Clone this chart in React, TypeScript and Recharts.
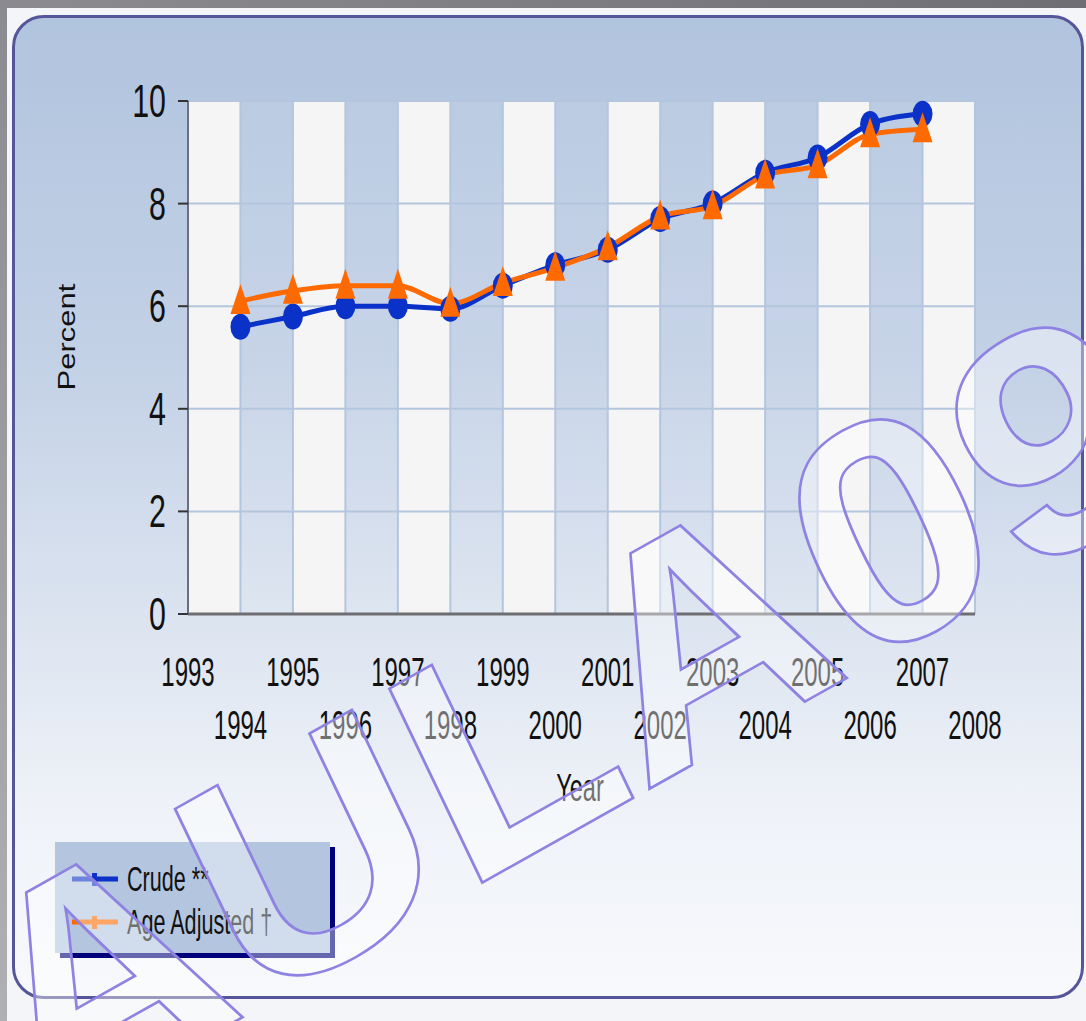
import { CartesianGrid, Line, LineChart, XAxis, YAxis } from "recharts";

const years = [1994, 1995, 1996, 1997, 1998, 1999, 2000, 2001, 2002, 2003, 2004, 2005, 2006, 2007];
const crude = [5.6, 5.8, 6.0, 6.0, 5.95, 6.4, 6.8, 7.1, 7.7, 8.0, 8.6, 8.9, 9.55, 9.75];
const ageAdjusted = [6.1, 6.3, 6.4, 6.4, 6.05, 6.45, 6.75, 7.15, 7.75, 7.95, 8.55, 8.75, 9.35, 9.45];
const xTicks = [1993, 1994, 1995, 1996, 1997, 1998, 1999, 2000, 2001, 2002, 2003, 2004, 2005, 2006, 2007, 2008];
const yTicks = [0, 2, 4, 6, 8, 10];
const seriesNames = ["Crude **", "Age Adjusted \u2020"];

const data = years.map((year, i) => ({ year, crude: crude[i], adjusted: ageAdjusted[i] }));

const FONT = "'Liberation Sans', Arial, sans-serif";
const BLUE = "#0a32c8";
const ORANGE = "#ff6a00";

function XTick({ x, y, payload }: any) {
  const row = payload.value % 2 === 1 ? 0 : 1;
  return (
    <text
      transform={`translate(${x},${y + 64 + row * 53}) scale(0.6,1)`}
      textAnchor="middle"
      fontSize={40}
      fontFamily={FONT}
      fill="#111"
    >
      {payload.value}
    </text>
  );
}

function YTick({ x, y, payload }: any) {
  return (
    <text
      transform={`translate(${x - 10},${y + 16}) scale(0.66,1)`}
      textAnchor="end"
      fontSize={46}
      fontFamily={FONT}
      fill="#111"
    >
      {payload.value}
    </text>
  );
}

function Ellipse({ cx, cy }: any) {
  if (cx == null || cy == null) return null;
  return <ellipse cx={cx} cy={cy} rx={10} ry={13} fill={BLUE} />;
}

function Triangle({ cx, cy }: any) {
  if (cx == null || cy == null) return null;
  return <path d={`M${cx},${cy - 17} L${cx + 10},${cy + 13} L${cx - 10},${cy + 13} Z`} fill={ORANGE} />;
}

function LegendBox() {
  const colors = [BLUE, ORANGE];
  return (
    <div
      style={{
        position: "absolute",
        left: 55,
        top: 842,
        width: 275,
        height: 111,
        background: "#b3c5df",
        boxShadow: "5px 5px 0 #00007a",
      }}
    >
      <svg width={275} height={111}>
        {seriesNames.map((name, i) => (
          <g key={name} transform={`translate(0,${37 + i * 43})`}>
            <line x1={17} x2={63} y1={0} y2={0} stroke={colors[i]} strokeWidth={5} />
            <rect x={37} y={-6} width={5} height={13} fill={colors[i]} />
            <text transform="translate(72,12) scale(0.6,1)" fontSize={36} fontFamily={FONT} fill="#111">
              {name}
            </text>
          </g>
        ))}
      </svg>
    </div>
  );
}

export default function App() {
  return (
    <div
      style={{
        position: "absolute",
        left: 0,
        top: 0,
        width: 1086,
        height: 1021,
        overflow: "hidden",
        background: "#f4f5f8",
      }}
    >
      <div style={{ position: "absolute", left: 0, top: 0, width: 1086, height: 8, background: "linear-gradient(to right, #8c8c90, #6e6e74)" }} />
      <div style={{ position: "absolute", left: 0, top: 0, width: 7, height: 1021, background: "linear-gradient(to bottom, #8a8a90, #b0b0b4)" }} />
      <div
        style={{
          position: "absolute",
          left: 12,
          top: 15,
          width: 1066,
          height: 978,
          border: "3px solid #55559a",
          borderRadius: 32,
          background: "linear-gradient(to bottom, #b1c4de 0%, #c3d1e6 35%, #dce4f0 62%, #eef2f8 80%, #f8f9fc 100%)",
        }}
      />
      <div style={{ position: "absolute", left: 0, top: 0 }}>
        <LineChart width={1086} height={1021} data={data} margin={{ top: 101, right: 111, bottom: 277, left: 128 }}>
          <CartesianGrid
            stroke="#b3c6de"
            strokeWidth={2}
            verticalFill={["#f5f5f5", "rgba(255,255,255,0.08)"]}
            fillOpacity={1}
          />
          <XAxis
            dataKey="year"
            type="number"
            domain={[1993, 2008]}
            ticks={xTicks}
            interval={0}
            height={130}
            tick={<XTick />}
            tickLine={false}
            axisLine={{ stroke: "#6e6e72", strokeWidth: 3 }}
          />
          <YAxis
            domain={[0, 10]}
            ticks={yTicks}
            width={60}
            tickSize={10}
            tick={<YTick />}
            tickLine={{ stroke: "#333", strokeWidth: 2 }}
            axisLine={{ stroke: "#6b7080", strokeWidth: 2 }}
          />
          <Line
            type="monotone"
            dataKey="crude"
            name={seriesNames[0]}
            stroke={BLUE}
            strokeWidth={5}
            dot={<Ellipse />}
            activeDot={false}
            isAnimationActive={false}
          />
          <Line
            type="monotone"
            dataKey="adjusted"
            name={seriesNames[1]}
            stroke={ORANGE}
            strokeWidth={5}
            dot={<Triangle />}
            activeDot={false}
            isAnimationActive={false}
          />
          <text transform="translate(75,337) scale(0.8,1) rotate(-90)" textAnchor="middle" fontSize={31} fontFamily={FONT} fill="#111">
            Percent
          </text>
          <text transform="translate(580,801) scale(0.62,1)" textAnchor="middle" fontSize={38} fontFamily={FONT} fill="#111">
            Year
          </text>
        </LineChart>
      </div>
      <LegendBox />
      <svg width={1086} height={1021} style={{ position: "absolute", left: 0, top: 0, pointerEvents: "none" }}>
        <text
          transform="matrix(0.98,-0.55,0.45,0.94,38,1132)"
          fontSize={300}
          fontWeight="bold"
          fontFamily={FONT}
          fill="rgba(255,255,255,0.4)"
          stroke="#8e82e2"
          strokeWidth={2.5}
        >
          AULA09
        </text>
      </svg>
    </div>
  );
}
